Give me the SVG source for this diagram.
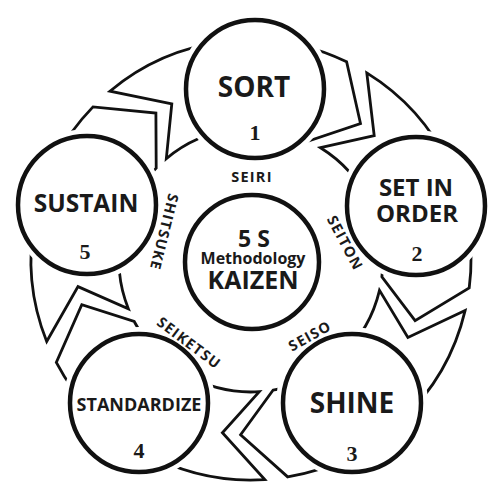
<svg xmlns="http://www.w3.org/2000/svg" width="500" height="500" viewBox="0 0 500 500">
<style>
.arrow{fill:none;stroke:#111;stroke-width:2.8;stroke-linejoin:miter}
.halo{fill:#fff;stroke:none}
.ring{fill:#fff;stroke:#111;stroke-width:4.5}
.lbl{font-family:"Open Sans","Noto Sans","Liberation Sans",sans-serif;font-weight:700;fill:#1a1a1a;text-anchor:middle}
.num{font-family:"Liberation Serif","DejaVu Serif",serif;font-weight:700;fill:#1a1a1a;text-anchor:middle;font-size:22px}
.jp{font-family:"Open Sans","Noto Sans","Liberation Sans",sans-serif;font-weight:700;fill:#1a1a1a;text-anchor:middle;font-size:14.5px;letter-spacing:1.2px}
</style>
<rect width="500" height="500" fill="#fff"/>
<g id="connectors">
<path class="arrow" d="M109.9,91.2 A220,220 0 0 1 346.6,61.8 L360.5,123.5 L308.4,141.1 A132,132 0 0 0 166.3,158.7 L171.8,103.9 Z"/>
<path class="arrow" d="M366.8,72.9 A220,220 0 0 1 469.2,288.0 L415.1,320.7 L381.9,276.8 A132,132 0 0 0 320.5,147.7 L374.2,135.7 Z"/>
<path class="arrow" d="M465.1,310.6 A220,220 0 0 1 287.7,476.9 L240.6,434.7 L273.0,390.2 A132,132 0 0 0 379.5,290.4 L407.9,337.5 Z"/>
<path class="arrow" d="M264.8,479.6 A220,220 0 0 1 56.3,362.4 L81.8,304.6 L134.2,321.5 A132,132 0 0 0 259.3,391.7 L222.4,432.7 Z"/>
<path class="arrow" d="M46.7,341.5 A220,220 0 0 1 93.0,106.9 L155.9,113.1 L156.2,168.1 A132,132 0 0 0 128.4,308.9 L78.0,286.6 Z"/>
</g>
<g id="sort">
<circle class="halo" cx="255" cy="89" r="76"/>
<circle class="ring" cx="255" cy="89" r="69"/>
<text class="lbl" x="254" y="97" font-size="28">SORT</text>
<text class="num" x="255" y="140">1</text>
</g>
<g id="set-in-order">
<circle class="halo" cx="416" cy="206" r="76"/>
<circle class="ring" cx="416" cy="206" r="69"/>
<text class="lbl" x="416" y="196" font-size="24">SET IN</text>
<text class="lbl" x="417" y="222" font-size="24">ORDER</text>
<text class="num" x="417" y="261">2</text>
</g>
<g id="shine">
<circle class="halo" cx="352" cy="403" r="76"/>
<circle class="ring" cx="352" cy="403" r="69"/>
<text class="lbl" x="352" y="413" font-size="28">SHINE</text>
<text class="num" x="352" y="461">3</text>
</g>
<g id="standardize">
<circle class="halo" cx="139" cy="403" r="76"/>
<circle class="ring" cx="139" cy="403" r="69"/>
<text class="lbl" x="139" y="411" font-size="18">STANDARDIZE</text>
<text class="num" x="139" y="458">4</text>
</g>
<g id="sustain">
<circle class="halo" cx="87" cy="205" r="76"/>
<circle class="ring" cx="87" cy="205" r="69"/>
<text class="lbl" x="86" y="212" font-size="24.5">SUSTAIN</text>
<text class="num" x="85" y="259">5</text>
</g>
<g id="center">
<circle class="ring" cx="252" cy="262" r="67"/>
<text class="lbl" x="254" y="247" font-size="23">5 S</text>
<text class="lbl" x="253" y="264" font-size="16">Methodology</text>
<text class="lbl" x="253" y="289" font-size="25">KAIZEN</text>
</g>
<g id="labels">
<text class="jp" x="252" y="182">SEIRI</text>
<text class="jp" transform="translate(345,243) rotate(62)" x="0" y="5">SEITON</text>
<text class="jp" transform="translate(310,336) rotate(-29)" x="0" y="5">SEISO</text>
<text class="jp" transform="translate(189,343) rotate(37)" x="0" y="5">SEIKETSU</text>
<text class="jp" transform="translate(164,232) rotate(104)" x="0" y="5">SHITSUKE</text>
</g>
</svg>
